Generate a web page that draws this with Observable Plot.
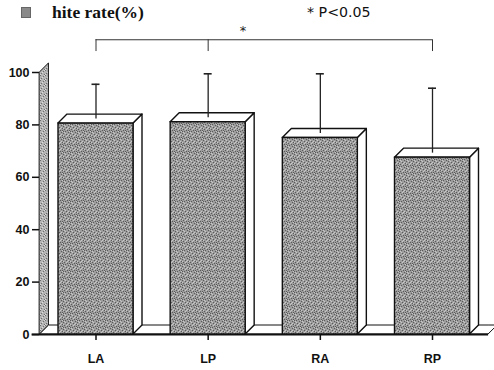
<!DOCTYPE html>
<html>
<head>
<meta charset="utf-8">
<script src="https://cdn.jsdelivr.net/npm/d3@7"></script>
<script src="https://cdn.jsdelivr.net/npm/@observablehq/plot@0.6"></script>
<style>
  body { margin: 0; background: #fff; }
  #wrap { position: relative; width: 494px; height: 370px; overflow: hidden; }
  #legend { position: absolute; left: 0; top: 0; width: 494px; height: 30px; }
  #legend .sq { position: absolute; left: 21px; top: 7px; width: 10px; height: 11px; background: #8a8a8a; border: 0.5px solid #666; box-sizing: border-box; }
  #legend .t1 { position: absolute; left: 52px; top: 2px; font: bold 17.5px "Liberation Serif", "DejaVu Serif", serif; color: #111; white-space: nowrap; }
  #legend .t2 { position: absolute; left: 307px; top: 4px; font: 14.2px "DejaVu Sans", sans-serif; color: #111; white-space: nowrap; }
</style>
</head>
<body>
<div id="wrap">
  <div id="chart"></div>
  <div id="legend"><span class="sq"></span><span class="t1">hite rate(%)</span><span class="t2">* P&lt;0.05</span></div>
</div>
<script>
// ---- data ----
const categories = ["LA", "LP", "RA", "RP"];
const means = [80.5, 81, 75, 67.5];
const sds = [15, 18.5, 24.5, 26.5];
const yTicks = [0, 20, 40, 60, 80, 100];
const bracketIdx = [0, 1, 3];          // bracket drops: LA, LP, RP
const bracketTop = 112.5;
const bracketBottom = 108;
const starLabel = "*";
const starX = 1.31;
const starY = 115.8;

// ---- layout ----
const W = 494, H = 370;
const xRange = [95.5, 432], yRange = [334, 72];
const pxX = (xRange[1] - xRange[0]) / (categories.length - 1);
const pxY = (yRange[0] - yRange[1]) / 100;
const half = 37.5 / pxX;     // half bar width in x units
const dX = 9 / pxX, dY = 9 / pxY;  // 3D depth
const capHalf = 4 / pxX;

const bars = categories.map((c, i) => ({c, i, mean: means[i], sd: sds[i]}));
const sideFaces = bars.flatMap(d => [
  {c: d.c, x: d.i + half, y1: 0, y2: d.mean},
  {c: d.c, x: d.i + half + dX, y1: dY, y2: d.mean + dY}
]);
const topFaces = bars.flatMap(d => [
  {c: d.c, x: d.i - half, y1: d.mean, y2: d.mean},
  {c: d.c, x: d.i - half + dX, y1: d.mean, y2: d.mean + dY},
  {c: d.c, x: d.i + half, y1: d.mean, y2: d.mean + dY},
  {c: d.c, x: d.i + half + dX, y1: d.mean + dY, y2: d.mean + dY}
]);
const xMin = -0.5, xMax = categories.length - 0.5;
const floor = [
  {x: xMin, y1: 0, y2: 0},
  {x: xMin + dX, y1: 0, y2: dY},
  {x: xMax, y1: 0, y2: dY},
  {x: xMax + dX, y1: dY, y2: dY}
];
const wall = [
  {x: xMin, y1: 0, y2: 100},
  {x: xMin + dX, y1: dY, y2: 100 + dY}
];

const svg = Plot.plot({
  width: W, height: H,
  marginLeft: 39, marginRight: 0, marginTop: 72, marginBottom: 36,
  x: {type: "linear", domain: [0, categories.length - 1], range: xRange},
  y: {domain: [0, 100], range: yRange},
  style: {fontFamily: "'Liberation Sans', Arial, sans-serif", fontSize: "12.5px", fontWeight: "bold", color: "#111", background: "white"},
  marks: [
    Plot.areaY(floor, {x: "x", y1: "y1", y2: "y2", fill: "white", stroke: "#111", strokeWidth: 1}),
    Plot.ruleY([{y: 0, x1: xMin - 0.07, x2: xMax}], {y: "y", x1: "x1", x2: "x2", stroke: "#111", strokeWidth: 2}),
    Plot.areaY(wall, {x: "x", y1: "y1", y2: "y2", fill: "url(#tex2)", stroke: "#111", strokeWidth: 1}),
    Plot.areaY(sideFaces, {x: "x", y1: "y1", y2: "y2", z: "c", fill: "white", stroke: "#111", strokeWidth: 1.4}),
    Plot.areaY(topFaces, {x: "x", y1: "y1", y2: "y2", z: "c", fill: "white", stroke: "#111", strokeWidth: 1.4}),
    Plot.rect(bars, {x1: d => d.i - half, x2: d => d.i + half, y1: 0, y2: "mean", fill: "url(#tex)", stroke: "#111", strokeWidth: 1.4}),
    Plot.ruleX(bars, {x: "i", y1: d => d.mean + dY / 2, y2: d => d.mean + d.sd, stroke: "#222", strokeWidth: 1.3}),
    Plot.ruleY(bars, {y: d => d.mean + d.sd, x1: d => d.i - capHalf, x2: d => d.i + capHalf, stroke: "#222", strokeWidth: 1.6}),
    Plot.ruleY([bracketTop], {x1: bracketIdx[0], x2: bracketIdx[bracketIdx.length - 1], stroke: "#333", strokeWidth: 1}),
    Plot.ruleX(bracketIdx, {x: d => d, y1: bracketBottom, y2: bracketTop, stroke: "#333", strokeWidth: 1}),
    Plot.text([starLabel], {x: starX, y: starY, text: d => d, fill: "#222", fontSize: 13, fontWeight: "normal", fontFamily: "'DejaVu Sans', sans-serif"}),
    Plot.axisY({ticks: yTicks, tickSize: 7, tickPadding: 3, label: null, strokeWidth: 1.5}),
    Plot.axisX({ticks: categories.map((c, i) => i), tickFormat: i => categories[i], tickSize: 6, tickPadding: 14, label: null, strokeWidth: 1.5})
  ]
});

const ns = "http://www.w3.org/2000/svg";
const defs = document.createElementNS(ns, "defs");
function pattern(id, size, base, layers) {
  const p = document.createElementNS(ns, "pattern");
  p.setAttribute("id", id);
  p.setAttribute("width", size); p.setAttribute("height", size);
  p.setAttribute("patternUnits", "userSpaceOnUse");
  const r = document.createElementNS(ns, "rect");
  r.setAttribute("width", size); r.setAttribute("height", size); r.setAttribute("fill", base);
  p.appendChild(r);
  for (const [color, dots] of layers) {
    for (const [x, y] of dots) {
      const q = document.createElementNS(ns, "rect");
      q.setAttribute("x", x); q.setAttribute("y", y);
      q.setAttribute("width", 1); q.setAttribute("height", 1);
      q.setAttribute("fill", color);
      p.appendChild(q);
    }
  }
  defs.appendChild(p);
}
// hand-placed stipple (fixed, not random)
pattern("tex", 7, "#9c9c9c", [
  ["#5a5a5a", [[0,0],[3,1],[6,2],[1,3],[4,4],[2,5],[5,6],[0,5],[6,4]]],
  ["#c8c8c8", [[2,0],[5,1],[0,2],[3,3],[6,5],[1,6],[4,2]]]
]);
pattern("tex2", 5, "#b4b4b4", [
  ["#6c6c6c", [[0,0],[3,1],[1,3],[4,4]]],
  ["#dcdcdc", [[2,2],[4,0],[0,4]]]
]);
svg.insertBefore(defs, svg.firstChild);
document.getElementById("chart").appendChild(svg);
</script>
</body>
</html>
